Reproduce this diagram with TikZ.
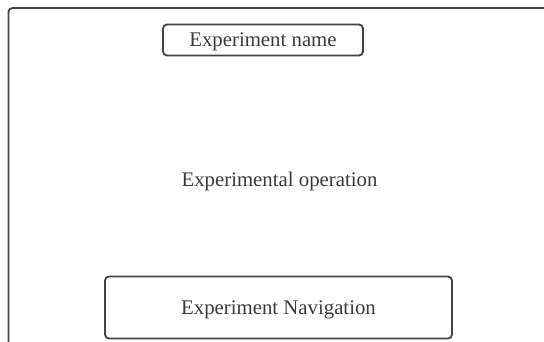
\documentclass[tikz,border=0pt]{standalone}
\usepackage{fontspec}
\setmainfont{Liberation Serif}
\usepackage{xcolor}
\definecolor{frameline}{HTML}{444444}
\definecolor{labeltext}{HTML}{3A3A3A}

\begin{document}
\begin{tikzpicture}[x=0.75pt,y=-0.75pt,
  box/.style={draw=frameline,line width=1.4pt,rounded corners=3pt,inner sep=0pt,text depth=0pt,
    font=\fontsize{15.6}{18}\selectfont,text=labeltext},
  plain/.style={inner sep=0pt,text depth=0pt,font=\fontsize{15.6}{18}\selectfont,text=labeltext}]
  \useasboundingbox (0,0) rectangle (544,342);

  % outer frame (open at right and bottom)
  \coordinate (fbot) at (8.5,343);
  \coordinate (ftop) at (8.5,8);
  \coordinate (fright) at (545,8);
  \draw[frameline,line width=1.4pt,rounded corners=3pt] (fbot) -- (ftop) -- (fright);

  % title
  \node[box,minimum width=150pt,minimum height=23.25pt] (name) at (263,40) {Experiment name};

  % body
  \node[plain] (operation) at (279.5,179) {Experimental operation};

  % navigation
  \node[box,minimum width=260.25pt,minimum height=46.5pt] (nav) at (278.5,307.5) {Experiment Navigation};
\end{tikzpicture}
\end{document}
